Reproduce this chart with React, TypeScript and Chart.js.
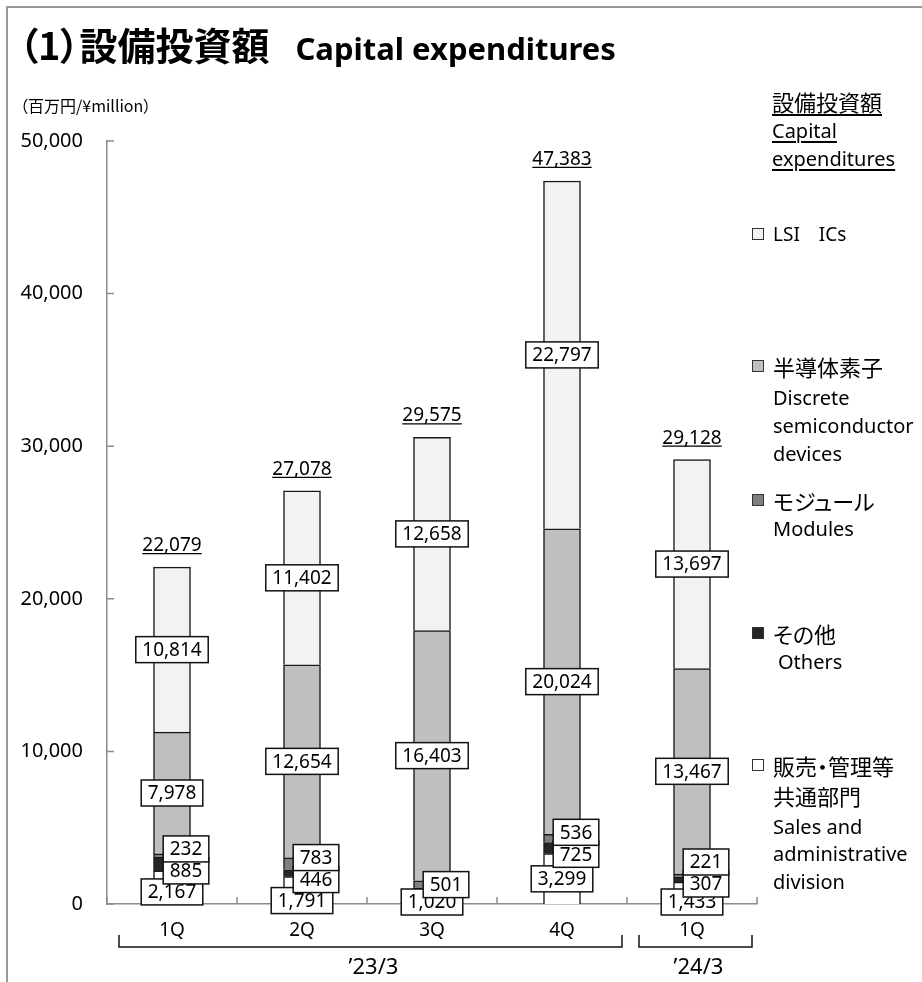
import React, { useEffect, useRef } from "react";
import { Chart, registerables } from "chart.js";

Chart.register(...registerables);

// ---- data ----
const categories = ["1Q", "2Q", "3Q", "4Q", "1Q"];
const salesAdmin: (number | null)[] = [2167, 1791, 1020, 3299, 1433];
const othersVals: (number | null)[] = [885, 446, null, 725, 307];
const modulesVals: (number | null)[] = [232, 783, 501, 536, 221];
const discreteVals: (number | null)[] = [7978, 12654, 16403, 20024, 13467];
const lsiVals: (number | null)[] = [10814, 11402, 12658, 22797, 13697];
const totalLabels = ["22,079", "27,078", "29,575", "47,383", "29,128"];
const yTickValues = [0, 10000, 20000, 30000, 40000, 50000];
const fiscalYearLabels = ["’23/3", "’24/3"];
const fiscalYearFirst = [0, 4];
const fiscalYearLast = [3, 4];

const seriesColors = ["#ffffff", "#262626", "#7f7f7f", "#bfbfbf", "#f2f2f2"];
const seriesNames = [
  "販売・管理等共通部門 Sales and administrative division",
  "その他 Others",
  "モジュール Modules",
  "半導体素子 Discrete semiconductor devices",
  "LSI ICs",
];

const LATIN = '"Noto Sans", "Noto Sans CJK JP", sans-serif';
const CJK = '"Noto Sans CJK JP", "Noto Sans", sans-serif';

const fmt = (v: number) => v.toLocaleString("en-US");

function drawBoxLabel(ctx: CanvasRenderingContext2D, text: string, cx: number, cy: number) {
  const w = ctx.measureText(text).width + 13;
  const h = 26;
  const x = cx - w / 2;
  const y = cy - h / 2;
  ctx.fillStyle = "#ffffff";
  ctx.fillRect(x, y, w, h);
  ctx.lineWidth = 1.5;
  ctx.strokeStyle = "#111111";
  ctx.strokeRect(x, y, w, h);
  ctx.fillStyle = "#000000";
  ctx.textAlign = "center";
  ctx.textBaseline = "middle";
  ctx.fillText(text, cx, cy + 1);
}

const insideTicksPlugin = {
  id: "insideTicks",
  afterDatasetsDraw(chart: any) {
    const { ctx, chartArea, scales } = chart;
    ctx.save();
    ctx.strokeStyle = "#8c8c8c";
    ctx.lineWidth = 1.5;
    ctx.beginPath();
    scales.y.ticks.forEach((t: any) => {
      const py = scales.y.getPixelForValue(t.value);
      ctx.moveTo(chartArea.left, py);
      ctx.lineTo(chartArea.left + 7, py);
    });
    const n = chart.data.labels.length;
    const w = (chartArea.right - chartArea.left) / n;
    for (let i = 0; i <= n; i++) {
      const px = chartArea.left + i * w;
      ctx.moveTo(px, chartArea.bottom);
      ctx.lineTo(px, chartArea.bottom - 7);
    }
    ctx.stroke();
    ctx.restore();
  },
};

const segmentLabelsPlugin = {
  id: "segmentLabels",
  afterDatasetsDraw(chart: any) {
    const { ctx, scales } = chart;
    const zeroPx = scales.y.getPixelForValue(0);
    ctx.save();
    ctx.font = `19px ${LATIN}`;
    const ds = chart.data.datasets;
    for (let i = 0; i < categories.length; i++) {
      const el = (d: number) => chart.getDatasetMeta(d).data[i];
      const has = (d: number) => ds[d].data[i] != null && ds[d].data[i] !== 0;
      const mid = (d: number) => (el(d).y + el(d).base) / 2;
      const cx = el(0).x;
      const sideX = cx + 14;

      let oY: number | null = null;
      let mY: number | null = null;
      if (has(1) && has(2)) {
        let mean = (mid(1) + mid(2)) / 2;
        if (mean + 11 > zeroPx - 20) mean = zeroPx - 20 - 11;
        oY = mean + 11;
        mY = mean - 11;
      } else if (has(2)) {
        mY = mid(2);
      } else if (has(1)) {
        oY = mid(1);
      }
      const lowSmall = oY != null ? oY : mY;
      let sY = mid(0);
      if (lowSmall != null) sY = Math.max(sY, lowSmall + 21);
      sY = Math.min(sY, zeroPx - 2);

      if (has(0)) drawBoxLabel(ctx, fmt(ds[0].data[i]), cx, sY);
      if (oY != null) drawBoxLabel(ctx, fmt(ds[1].data[i]), sideX, oY);
      if (mY != null) drawBoxLabel(ctx, fmt(ds[2].data[i]), sideX, mY);
      if (has(3)) drawBoxLabel(ctx, fmt(ds[3].data[i]), cx, mid(3));
      if (has(4)) drawBoxLabel(ctx, fmt(ds[4].data[i]), cx, mid(4));

      // total above the bar, underlined
      const top = el(4).y;
      const txt = totalLabels[i];
      const base = top - 16;
      ctx.fillStyle = "#000";
      ctx.textAlign = "center";
      ctx.textBaseline = "alphabetic";
      ctx.fillText(txt, cx, base);
      const tw = ctx.measureText(txt).width;
      ctx.strokeStyle = "#000";
      ctx.lineWidth = 1.2;
      ctx.beginPath();
      ctx.moveTo(cx - tw / 2, base + 2.5);
      ctx.lineTo(cx + tw / 2, base + 2.5);
      ctx.stroke();
    }
    ctx.restore();
  },
};

const fiscalBracketPlugin = {
  id: "fiscalBrackets",
  afterDraw(chart: any) {
    const { ctx, chartArea } = chart;
    const n = chart.data.labels.length;
    const w = (chartArea.right - chartArea.left) / n;
    const yTop = chartArea.bottom + 31;
    const yBot = chartArea.bottom + 43;
    ctx.save();
    ctx.strokeStyle = "#111";
    ctx.lineWidth = 1.5;
    ctx.font = `22px ${LATIN}`;
    ctx.fillStyle = "#000";
    ctx.textAlign = "center";
    ctx.textBaseline = "middle";
    fiscalYearLabels.forEach((lab, g) => {
      const x0 = chartArea.left + fiscalYearFirst[g] * w + 12;
      const x1 = chartArea.left + (fiscalYearLast[g] + 1) * w - 5;
      ctx.beginPath();
      ctx.moveTo(x0, yTop);
      ctx.lineTo(x0, yBot);
      ctx.lineTo(x1, yBot);
      ctx.lineTo(x1, yTop);
      ctx.stroke();
      ctx.fillText(lab, (x0 + x1) / 2 + 3, chartArea.bottom + 64);
    });
    ctx.restore();
  },
};

type LineProps = {
  x: number;
  cy: number;
  size: number;
  underline?: boolean;
  cjk?: boolean;
  children: React.ReactNode;
};

function TextLine({ x, cy, size, underline, cjk, children }: LineProps) {
  return (
    <div
      style={{
        position: "absolute",
        left: x,
        top: cy - 14,
        height: 28,
        lineHeight: "28px",
        fontSize: size,
        fontFamily: cjk ? CJK : LATIN,
        fontFeatureSettings: cjk ? '"palt"' : "normal",
        whiteSpace: "nowrap",
        textDecoration: underline ? "underline" : "none",
        textUnderlineOffset: 3,
      }}
    >
      {children}
    </div>
  );
}

function Swatch({ cy, color }: { cy: number; color: string }) {
  return (
    <div
      style={{
        position: "absolute",
        left: 752,
        top: cy - 6,
        width: 12,
        height: 12,
        boxSizing: "border-box",
        border: "1.5px solid #333",
        background: color,
      }}
    />
  );
}

export default function App() {
  const ref = useRef<HTMLCanvasElement>(null);

  useEffect(() => {
    if (!ref.current) return;
    const datasets = [salesAdmin, othersVals, modulesVals, discreteVals, lsiVals].map((d, k) => ({
      label: seriesNames[k],
      data: d,
      backgroundColor: seriesColors[k],
      borderColor: "#1a1a1a",
      borderWidth: 1.5,
      borderSkipped: "start" as const,
      barThickness: 37,
    }));
    const chart = new Chart(ref.current, {
      type: "bar",
      data: { labels: categories, datasets },
      options: {
        responsive: false,
        animation: false,
        events: [],
        layout: { padding: { left: 0, right: 165, top: 141, bottom: 38 } },
        plugins: { legend: { display: false }, tooltip: { enabled: false } },
        scales: {
          x: {
            stacked: true,
            grid: { display: false, drawTicks: false },
            border: { display: true, color: "#8c8c8c", width: 1.5 },
            ticks: { color: "#000", font: { family: LATIN, size: 19 }, padding: 15 },
            afterFit: (s: any) => {
              s.height = 40;
            },
          },
          y: {
            stacked: true,
            min: 0,
            max: 50000,
            grid: { display: false, drawTicks: false },
            border: { display: true, color: "#8c8c8c", width: 1.5 },
            ticks: {
              color: "#000",
              font: { family: LATIN, size: 20 },
              padding: 24,
              callback: (v: any) => fmt(Number(v)),
            },
            afterBuildTicks: (s: any) => {
              s.ticks = yTickValues.map((v) => ({ value: v }));
            },
            afterFit: (s: any) => {
              s.width = 107;
            },
          },
        },
      } as any,
      plugins: [insideTicksPlugin, segmentLabelsPlugin, fiscalBracketPlugin],
    });
    return () => chart.destroy();
  }, []);

  return (
    <div
      style={{
        position: "absolute",
        left: 0,
        top: 0,
        width: 922,
        height: 982,
        overflow: "hidden",
        background: "#fff",
        color: "#000",
        fontFamily: LATIN,
      }}
    >
      <div
        style={{
          position: "absolute",
          left: 6,
          top: 6,
          width: 960,
          height: 1020,
          boxSizing: "border-box",
          border: "2px solid #9a9a9a",
        }}
      />
      <canvas
        ref={ref}
        width={922}
        height={982}
        style={{ position: "absolute", left: 0, top: 0, width: 922, height: 982 }}
      />
      <div
        style={{
          position: "absolute",
          left: 19,
          top: 21,
          height: 46,
          lineHeight: "46px",
          fontSize: 38,
          fontWeight: 700,
          whiteSpace: "nowrap",
          fontFamily: CJK,
          fontFeatureSettings: '"palt"',
        }}
      >
        （1）設備投資額
        <span style={{ marginLeft: 26, fontFamily: LATIN, fontSize: 31, fontFeatureSettings: "normal" }}>
          Capital expenditures
        </span>
      </div>
      <div
        style={{
          position: "absolute",
          left: 20,
          top: 94,
          height: 22,
          lineHeight: "22px",
          fontSize: 16,
          whiteSpace: "nowrap",
          fontFamily: CJK,
          fontFeatureSettings: '"palt"',
        }}
      >
        （百万円/¥million）
      </div>

      {/* legend */}
      <TextLine x={772} cy={101} size={22} underline cjk>
        設備投資額
      </TextLine>
      <TextLine x={772} cy={131} size={20} underline>
        Capital
      </TextLine>
      <TextLine x={772} cy={159} size={20} underline>
        expenditures
      </TextLine>

      <Swatch cy={234} color={seriesColors[4]} />
      <TextLine x={773} cy={234} size={19}>
        LSI　ICs
      </TextLine>

      <Swatch cy={366} color={seriesColors[3]} />
      <TextLine x={773} cy={366} size={22} cjk>
        半導体素子
      </TextLine>
      <TextLine x={773} cy={398} size={20}>
        Discrete
      </TextLine>
      <TextLine x={773} cy={426} size={20}>
        semiconductor
      </TextLine>
      <TextLine x={773} cy={454} size={20}>
        devices
      </TextLine>

      <Swatch cy={500} color={seriesColors[2]} />
      <TextLine x={773} cy={500} size={22} cjk>
        モジュール
      </TextLine>
      <TextLine x={773} cy={529} size={20}>
        Modules
      </TextLine>

      <Swatch cy={633} color={seriesColors[1]} />
      <TextLine x={773} cy={633} size={22} cjk>
        その他
      </TextLine>
      <TextLine x={778} cy={662} size={20}>
        Others
      </TextLine>

      <Swatch cy={765} color={seriesColors[0]} />
      <TextLine x={773} cy={765} size={22} cjk>
        販売・管理等
      </TextLine>
      <TextLine x={773} cy={795} size={22} cjk>
        共通部門
      </TextLine>
      <TextLine x={773} cy={827} size={20}>
        Sales and
      </TextLine>
      <TextLine x={773} cy={854} size={20}>
        administrative
      </TextLine>
      <TextLine x={773} cy={882} size={20}>
        division
      </TextLine>
    </div>
  );
}
